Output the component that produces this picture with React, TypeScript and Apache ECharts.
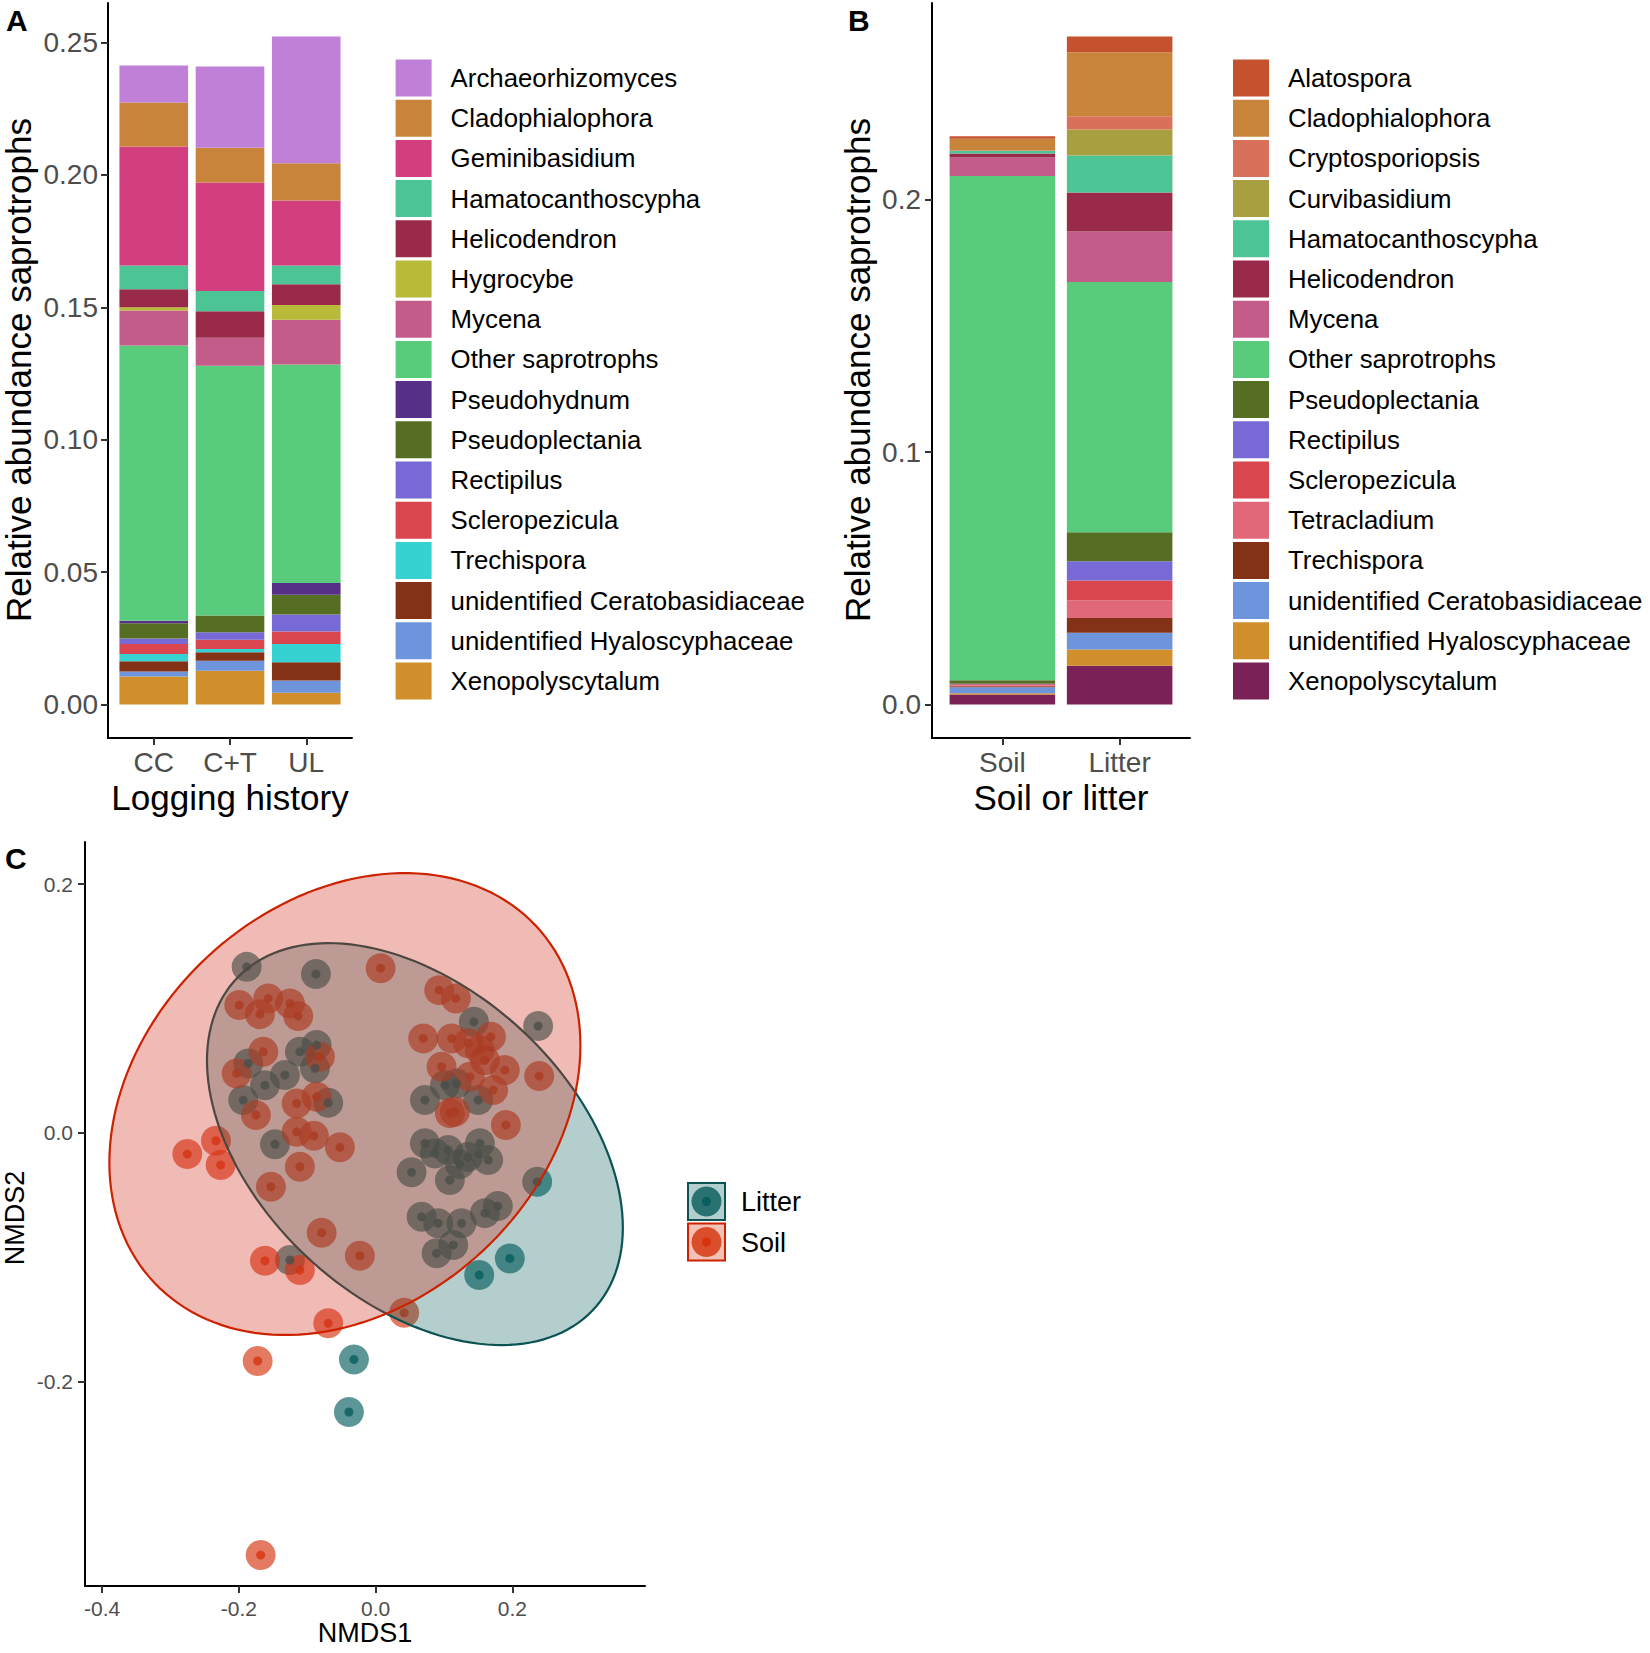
import React, { useEffect, useRef } from "react";
import * as echarts from "echarts";

const FONT = '"Liberation Sans", Arial, sans-serif';

// ---------- Panel A : logging history ----------
const CATS_A = ["CC", "C+T", "UL"];
const GENERA_A = [
  "Archaeorhizomyces", "Cladophialophora", "Geminibasidium", "Hamatocanthoscypha",
  "Helicodendron", "Hygrocybe", "Mycena", "Other saprotrophs", "Pseudohydnum",
  "Pseudoplectania", "Rectipilus", "Scleropezicula", "Trechispora",
  "unidentified Ceratobasidiaceae", "unidentified Hyaloscyphaceae", "Xenopolyscytalum",
];
const COLORS_A = [
  "#C080D8", "#C8843A", "#D33F7E", "#4CC495", "#9A2A4A", "#B8BA3A", "#C45C8A", "#58CC7C",
  "#572F86", "#566E24", "#776AD6", "#D9464F", "#36D2D2", "#833216", "#6E94DC", "#D08F2A",
];
const A_CC = [0.014, 0.0166, 0.0449, 0.009, 0.0068, 0.0012, 0.0132, 0.1039, 0.001, 0.0057, 0.0021, 0.0038, 0.0027, 0.0039, 0.0019, 0.0106];
const A_CT = [0.0306, 0.0132, 0.0409, 0.0077, 0.01, 0.0, 0.0106, 0.0943, 0.0, 0.0063, 0.0028, 0.0035, 0.0012, 0.0032, 0.0038, 0.0128];
const A_UL = [0.0479, 0.0141, 0.0245, 0.0071, 0.0078, 0.0056, 0.0169, 0.0825, 0.0044, 0.0075, 0.0064, 0.0047, 0.0069, 0.0069, 0.0046, 0.0045];
const A_Y_TICKS = [0, 0.05, 0.1, 0.15, 0.2, 0.25];

// ---------- Panel B : soil or litter ----------
const CATS_B = ["Soil", "Litter"];
const GENERA_B = [
  "Alatospora", "Cladophialophora", "Cryptosporiopsis", "Curvibasidium", "Hamatocanthoscypha",
  "Helicodendron", "Mycena", "Other saprotrophs", "Pseudoplectania", "Rectipilus",
  "Scleropezicula", "Tetracladium", "Trechispora", "unidentified Ceratobasidiaceae",
  "unidentified Hyaloscyphaceae", "Xenopolyscytalum",
];
const COLORS_B = [
  "#C4522E", "#C8843A", "#D8705A", "#A8A040", "#4CC495", "#9A2A4A", "#C45C8A", "#58CC7C",
  "#566E24", "#776AD6", "#D9464F", "#E06878", "#833216", "#6E94DC", "#D08F2A", "#7A2158",
];
const B_SOIL = [0.001, 0.0045, 0.0002, 0.0002, 0.001, 0.0016, 0.0073, 0.1997, 0.0013, 0.0002, 0.0004, 0.0004, 0.0004, 0.0024, 0.0005, 0.004];
const B_LITTER = [0.0063, 0.0253, 0.0053, 0.0103, 0.0146, 0.0155, 0.02, 0.0991, 0.0114, 0.0077, 0.0079, 0.0069, 0.0059, 0.0066, 0.0064, 0.0154];
const B_Y_TICKS = [0, 0.1, 0.2];

// ---------- Panel C : NMDS ----------
const SOIL_X = [-0.1994, -0.157, -0.1253, -0.1692, -0.1132, -0.1643, -0.2032, -0.0814, -0.1155, -0.0863, -0.175, -0.1155, -0.0902, -0.0522, -0.2335, -0.2754, -0.2266, -0.1107, -0.1531, -0.0789, -0.023, -0.1618, -0.1107, -0.0693, 0.0418, -0.1725, -0.1681, 0.0073, 0.093, 0.1174, 0.0696, 0.1111, 0.1354, 0.1686, 0.1525, 0.0965, 0.1379, 0.1598, 0.189, 0.2392, 0.1719, 0.1159, 0.1905, 0.1086];
const SOIL_Y = [0.1027, 0.108, 0.104, 0.0954, 0.0938, 0.0651, 0.0477, 0.0611, 0.0236, 0.0289, 0.0142, 0.0008, -0.0024, -0.0117, -0.0064, -0.0171, -0.026, -0.0273, -0.0434, -0.0804, -0.0989, -0.1029, -0.1104, -0.1532, -0.1447, -0.1835, -0.3395, 0.1322, 0.1147, 0.108, 0.0759, 0.0759, 0.0719, 0.0772, 0.0665, 0.0531, 0.045, 0.0584, 0.0504, 0.0456, 0.0343, 0.0169, 0.0062, 0.0158];
const LITTER_X = [-0.1886, -0.0873, -0.1863, -0.1107, -0.0863, -0.1326, -0.0887, -0.1618, -0.1936, -0.0693, -0.1472, -0.1253, 0.1437, 0.2377, 0.0721, 0.1013, 0.1184, 0.15, 0.0721, 0.0867, 0.1061, 0.1232, 0.1525, 0.1646, 0.0526, 0.1086, 0.2363, 0.0673, 0.0915, 0.1257, 0.1598, 0.1788, 0.0892, 0.1135, 0.1963, 0.1515, -0.0317, -0.039, 0.1349];
const LITTER_Y = [0.1334, 0.1276, 0.0558, 0.0651, 0.0705, 0.0464, 0.0518, 0.0383, 0.0263, 0.0241, -0.0093, -0.1023, 0.0892, 0.0858, 0.0263, 0.0383, 0.0397, 0.0263, -0.0085, -0.0166, -0.0139, -0.0252, -0.0085, -0.0219, -0.0318, -0.038, -0.0394, -0.0675, -0.0728, -0.0728, -0.0646, -0.0589, -0.0969, -0.0903, -0.101, -0.1144, -0.1822, -0.2245, -0.0195];
// ellipse: [centre x, centre y, var x, cov xy, var y]
const SOIL_ELLIPSE = [-0.0449, 0.0231, 0.11864, 0.016218, 0.034481];
const LITTER_ELLIPSE = [0.0575, -0.0091, 0.092473, -0.020414, 0.026107];
const C_X_TICKS = [-0.4, -0.2, 0, 0.2];
const C_Y_TICKS = [-0.2, 0, 0.2];
const C_X_RANGE = [-0.425, 0.394];
const C_Y_RANGE = [-0.3644, 0.2338];

const SOIL_COL = "214,52,14";
const LITTER_COL = "8,94,94";

const GRID_A = { left: 108, top: 3, width: 244, height: 735 };
const GRID_B = { left: 932, top: 3, width: 258, height: 735 };
const GRID_C = { left: 85, top: 842, width: 560, height: 744 };

function stackMax(cols: number[][]) {
  return Math.max(...cols.map((c) => c.reduce((s, v) => s + v, 0)));
}

// inner grid for a discrete axis with ggplot's 0.6-unit expansion
function barGrid(g: { left: number; top: number; width: number; height: number }, n: number) {
  const unit = g.width / (n + 0.2);
  return { left: g.left + 0.1 * unit, top: g.top, width: n * unit, height: g.height };
}

function ellipseSeries(par: number[], fill: string, stroke: string, z: number) {
  return {
    type: "custom",
    xAxisIndex: 4,
    yAxisIndex: 4,
    z,
    silent: true,
    data: [[par[0], par[1]]],
    renderItem: (_p: any, api: any) => {
      const [cx, cy, sxx, sxy, syy] = par;
      const l11 = Math.sqrt(sxx);
      const l21 = sxy / l11;
      const l22 = Math.sqrt(syy - l21 * l21);
      const pts: number[][] = [];
      const n = 160;
      for (let i = 0; i < n; i++) {
        const t = (2 * Math.PI * i) / n;
        pts.push(api.coord([cx + l11 * Math.cos(t), cy + l21 * Math.cos(t) + l22 * Math.sin(t)]));
      }
      return {
        type: "polygon",
        shape: { points: pts },
        style: { fill, stroke, lineWidth: 2.2 },
      };
    },
  };
}

export default function App() {
  const ref = useRef<HTMLDivElement>(null);

  useEffect(() => {
    document.body.style.margin = "0";
    const chart = echarts.init(ref.current!, undefined, { renderer: "svg" });

    const maxA = stackMax([A_CC, A_CT, A_UL]);
    const maxB = stackMax([B_SOIL, B_LITTER]);
    const yRangeA = [-0.05 * maxA, 1.05 * maxA];
    const yRangeB = [-0.05 * maxB, 1.05 * maxB];

    const axisLine = { show: true, onZero: false, lineStyle: { color: "#000", width: 2 } };
    const tickStyle = { show: true, length: 7, lineStyle: { color: "#333", width: 2 } };
    const tick = (vals: number[]) => ({ ...tickStyle, customValues: vals });
    const labStyle = (size: number, margin: number) => ({
      show: true,
      fontSize: size,
      color: "#4D4D4D",
      fontFamily: FONT,
      margin,
    });
    const lab = (vals: number[], fmt: (v: number) => string, size: number, margin: number) => ({
      ...labStyle(size, margin),
      customValues: vals,
      formatter: fmt,
    });
    const lineOnlyX = (gridIndex: number) => ({
      type: "value", gridIndex, min: 0, max: 1,
      axisLine, axisTick: { show: false }, axisLabel: { show: false }, splitLine: { show: false },
    });
    const catX = (gridIndex: number, cats: string[]) => ({
      type: "category", gridIndex, data: cats, boundaryGap: true,
      axisLine: { show: false, onZero: false },
      axisTick: { ...tickStyle, alignWithLabel: true },
      axisLabel: labStyle(28, 10),
      splitLine: { show: false },
    });
    const hiddenY = (gridIndex: number, r: number[]) => ({
      type: "value", gridIndex, min: r[0], max: r[1], show: false, splitLine: { show: false },
    });

    const series: any[] = [];
    for (let i = GENERA_A.length - 1; i >= 0; i--) {
      series.push({
        type: "bar",
        name: GENERA_A[i],
        xAxisIndex: 1,
        yAxisIndex: 1,
        stack: "A",
        barWidth: "90%",
        silent: true,
        emphasis: { disabled: true },
        itemStyle: { color: COLORS_A[i] },
        data: [A_CC[i], A_CT[i], A_UL[i]],
      });
    }
    for (let i = GENERA_B.length - 1; i >= 0; i--) {
      series.push({
        type: "bar",
        name: "B:" + GENERA_B[i],
        xAxisIndex: 3,
        yAxisIndex: 3,
        stack: "B",
        barWidth: "90%",
        silent: true,
        emphasis: { disabled: true },
        itemStyle: { color: COLORS_B[i] },
        data: [B_SOIL[i], B_LITTER[i]],
      });
    }

    const litterPts = LITTER_X.map((x, i) => [x, LITTER_Y[i]]);
    const soilPts = SOIL_X.map((x, i) => [x, SOIL_Y[i]]);
    const scatter = (name: string, data: number[][], size: number, color: string) => ({
      type: "scatter",
      name,
      xAxisIndex: 4,
      yAxisIndex: 4,
      data,
      symbolSize: size,
      silent: true,
      z: 2,
      emphasis: { disabled: true },
      itemStyle: { color },
    });
    series.push(scatter("Litter", litterPts, 30, `rgba(${LITTER_COL},0.82)`));
    series.push(scatter("Soil", soilPts, 30, `rgba(${SOIL_COL},0.82)`));
    series.push(scatter("Litter dot", litterPts, 9, `rgb(${LITTER_COL})`));
    series.push(scatter("Soil dot", soilPts, 9, `rgb(${SOIL_COL})`));
    series.push(ellipseSeries(LITTER_ELLIPSE, `rgba(${LITTER_COL},0.3)`, "#0B5252", 4));
    series.push(ellipseSeries(SOIL_ELLIPSE, "rgba(214,50,30,0.33)", "#CC2200", 5));

    const legendBase = {
      orient: "vertical",
      itemWidth: 36,
      itemHeight: 37,
      itemGap: 3.2,
      icon: "rect",
      padding: 0,
      selectedMode: false,
      textStyle: { fontSize: 25.8, color: "#000", fontFamily: FONT, padding: [0, 0, 0, 14] },
    };

    const txt = (text: string, x: number, y: number, size: number, opts: any = {}) => ({
      type: "text",
      x,
      y,
      rotation: opts.rotation || 0,
      silent: true,
      style: {
        text,
        fontSize: size,
        fontFamily: FONT,
        fontWeight: opts.bold ? "bold" : "normal",
        fill: "#000",
        align: opts.align || "center",
        verticalAlign: "middle",
      },
    });

    const legendKey = (y: number, col: string, line: string, label: string) => [
      {
        type: "rect",
        shape: { x: 688, y, width: 37, height: 37 },
        style: { fill: `rgba(${col},0.3)`, stroke: line, lineWidth: 2 },
        silent: true,
      },
      { type: "circle", shape: { cx: 706.5, cy: y + 18.5, r: 15 }, style: { fill: `rgba(${col},0.82)` }, silent: true },
      { type: "circle", shape: { cx: 706.5, cy: y + 18.5, r: 4.5 }, style: { fill: `rgb(${col})` }, silent: true },
      txt(label, 741, y + 19, 27, { align: "left" }),
    ];

    const grids = [GRID_A, barGrid(GRID_A, CATS_A.length), GRID_B, barGrid(GRID_B, CATS_B.length), GRID_C];

    const option: any = {
      animation: false,
      backgroundColor: "#fff",
      grid: grids.map((g) => ({ ...g, outerBoundsMode: "none", containLabel: false })),
      xAxis: [
        lineOnlyX(0),
        catX(1, CATS_A),
        lineOnlyX(2),
        catX(3, CATS_B),
        {
          type: "value", gridIndex: 4, min: C_X_RANGE[0], max: C_X_RANGE[1],
          axisLine, axisTick: tick(C_X_TICKS), splitLine: { show: false },
          axisLabel: lab(C_X_TICKS, (v) => v.toFixed(1), 21, 12),
        },
      ],
      yAxis: [
        {
          type: "value", gridIndex: 0, min: yRangeA[0], max: yRangeA[1],
          axisLine, axisTick: tick(A_Y_TICKS), splitLine: { show: false },
          axisLabel: lab(A_Y_TICKS, (v) => v.toFixed(2), 28, 10),
        },
        hiddenY(1, yRangeA),
        {
          type: "value", gridIndex: 2, min: yRangeB[0], max: yRangeB[1],
          axisLine, axisTick: tick(B_Y_TICKS), splitLine: { show: false },
          axisLabel: lab(B_Y_TICKS, (v) => v.toFixed(1), 28, 11),
        },
        hiddenY(3, yRangeB),
        {
          type: "value", gridIndex: 4, min: C_Y_RANGE[0], max: C_Y_RANGE[1],
          axisLine, axisTick: tick(C_Y_TICKS), splitLine: { show: false },
          axisLabel: lab(C_Y_TICKS, (v) => v.toFixed(1), 21, 12),
        },
      ],
      legend: [
        { ...legendBase, left: 395.6, top: 59.5, data: GENERA_A },
        {
          ...legendBase, left: 1233, top: 59.5,
          data: GENERA_B.map((g) => "B:" + g),
          formatter: (n: string) => n.slice(2),
        },
      ],
      graphic: [
        txt("A", 6, 20, 30, { bold: true, align: "left" }),
        txt("B", 848, 20, 30, { bold: true, align: "left" }),
        txt("C", 5, 858, 30, { bold: true, align: "left" }),
        txt("Relative abundance saprotrophs", 18, 370, 35, { rotation: Math.PI / 2 }),
        txt("Relative abundance saprotrophs", 857, 370, 35, { rotation: Math.PI / 2 }),
        txt("Logging history", 230, 797, 35),
        txt("Soil or litter", 1061, 797, 35),
        txt("NMDS1", 365, 1633, 27),
        txt("NMDS2", 15, 1218, 27, { rotation: Math.PI / 2 }),
        ...legendKey(1183, LITTER_COL, "#0B5252", "Litter"),
        ...legendKey(1223.5, SOIL_COL, "#CC2200", "Soil"),
      ],
      series,
    };

    chart.setOption(option);
    return () => chart.dispose();
  }, []);

  return (
    <div
      ref={ref}
      style={{ position: "absolute", left: 0, top: 0, width: 1650, height: 1653, background: "#fff" }}
    />
  );
}
